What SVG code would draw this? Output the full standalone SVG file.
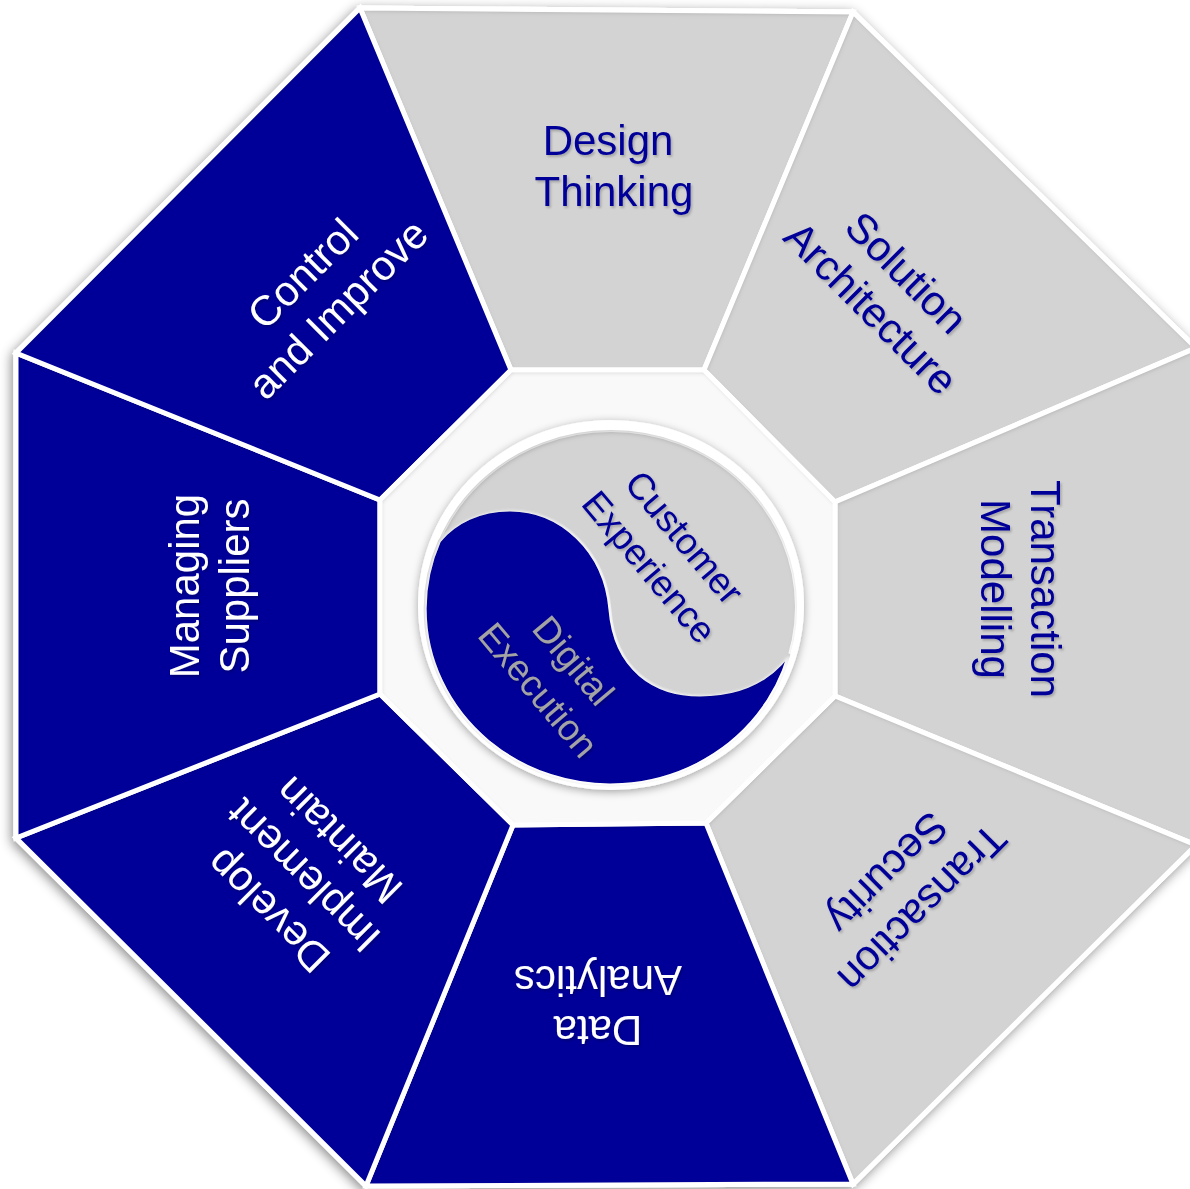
<svg xmlns="http://www.w3.org/2000/svg" width="1190" height="1189" viewBox="0 0 1190 1189">
<defs>
<style>
.blue{fill:#000099}
.grey{fill:#d3d3d3}
.edge{fill:none;stroke:#ffffff;stroke-width:5;stroke-linejoin:miter}
.lbl{font-family:"Liberation Sans",Arial,Helvetica,sans-serif;font-size:42px;text-anchor:middle}
.sm{font-size:37px}
.dk{fill:#000099}
.wt{fill:#ffffff}
.gy{fill:#a3a3a3}
</style>
<filter id="shadow" x="-10%" y="-10%" width="120%" height="120%">
<feDropShadow dx="-2" dy="3" stdDeviation="6" flood-color="#000" flood-opacity="0.45"/>
</filter>
<filter id="ringshadow" x="-10%" y="-10%" width="120%" height="120%">
<feDropShadow dx="0" dy="2" stdDeviation="4" flood-color="#000" flood-opacity="0.35"/>
</filter>
<filter id="inset" x="-5%" y="-5%" width="110%" height="110%">
<feFlood flood-color="#000" flood-opacity="0.45" result="f"/>
<feComposite in="f" in2="SourceAlpha" operator="out" result="outside"/>
<feGaussianBlur in="outside" stdDeviation="2.5" result="b"/>
<feOffset in="b" dx="1" dy="2" result="o"/>
<feComposite in="o" in2="SourceAlpha" operator="in" result="inner"/>
<feMerge><feMergeNode in="SourceGraphic"/><feMergeNode in="inner"/></feMerge>
</filter>
<filter id="ts" x="-20%" y="-20%" width="140%" height="140%">
<feDropShadow dx="1.5" dy="2" stdDeviation="1.3" flood-color="#000" flood-opacity="0.22"/>
</filter>
</defs>
<rect x="0" y="0" width="1190" height="1189" fill="#ffffff"/>

<g id="octagon-background" filter="url(#shadow)">
<polygon points="360,8 853,12 1196,348 1196,845 853,1184 366,1186 16,838 16,353" fill="#ffffff" stroke="#ffffff" stroke-width="5"/>
</g>

<g id="design-thinking">
<polygon class="grey" filter="url(#inset)" points="360,8 853,12 704,370 511,370"/>
<polygon class="edge" points="360,8 853,12 704,370 511,370"/>
<g filter="url(#ts)"><text class="lbl dk"><tspan x="608" y="155">Design</tspan><tspan x="614" y="206">Thinking</tspan></text></g>
</g>

<g id="solution-architecture">
<polygon class="grey" filter="url(#inset)" points="853,12 1196,348 835,502 704,370"/>
<polygon class="edge" points="853,12 1196,348 835,502 704,370"/>
<g filter="url(#ts)"><g transform="translate(889,290) rotate(45)"><text class="lbl dk"><tspan x="0" y="-10">Solution</tspan><tspan x="0" y="40">Architecture</tspan></text></g></g>
</g>

<g id="transaction-modelling">
<polygon class="grey" filter="url(#inset)" points="1196,348 1196,845 835,696 835,502"/>
<polygon class="edge" points="1196,348 1196,845 835,696 835,502"/>
<g filter="url(#ts)"><g transform="translate(1021,589) rotate(90)"><text class="lbl dk"><tspan x="0" y="-10">Transaction</tspan><tspan x="0" y="40">Modelling</tspan></text></g></g>
</g>

<g id="transaction-security">
<polygon class="grey" filter="url(#inset)" points="1196,845 853,1184 706,823 835,696"/>
<polygon class="edge" points="1196,845 853,1184 706,823 835,696"/>
<g filter="url(#ts)"><g transform="translate(905,891) rotate(135)"><text class="lbl dk"><tspan x="0" y="-10">Transaction</tspan><tspan x="0" y="40">Security</tspan></text></g></g>
</g>

<g id="data-analytics">
<polygon class="blue" filter="url(#inset)" points="853,1184 366,1186 513,825 706,823"/>
<polygon class="edge" points="853,1184 366,1186 513,825 706,823"/>
<g filter="url(#ts)"><g transform="translate(598,1006) rotate(180)"><text class="lbl wt"><tspan x="0" y="-10">Data</tspan><tspan x="0" y="40">Analytics</tspan></text></g></g>
</g>

<g id="develop-implement-maintain">
<polygon class="blue" filter="url(#inset)" points="366,1186 16,838 380,694 513,825"/>
<polygon class="edge" points="366,1186 16,838 380,694 513,825"/>
<g filter="url(#ts)"><g transform="translate(303,876) rotate(225)"><text class="lbl wt"><tspan x="0" y="-35">Develop</tspan><tspan x="0" y="15">Implement</tspan><tspan x="0" y="65">Maintain</tspan></text></g></g>
</g>

<g id="managing-suppliers">
<polygon class="blue" filter="url(#inset)" points="16,838 16,353 380,500 380,694"/>
<polygon class="edge" points="16,838 16,353 380,500 380,694"/>
<g filter="url(#ts)"><g transform="translate(209,586) rotate(270)"><text class="lbl wt"><tspan x="0" y="-10">Managing</tspan><tspan x="0" y="40">Suppliers</tspan></text></g></g>
</g>

<g id="control-and-improve">
<polygon class="blue" filter="url(#inset)" points="16,353 360,8 511,370 380,500"/>
<polygon class="edge" points="16,353 360,8 511,370 380,500"/>
<g filter="url(#ts)"><g transform="translate(320,291) rotate(315)"><text class="lbl wt"><tspan x="0" y="-10">Control</tspan><tspan x="0" y="40">and Improve</tspan></text></g></g>
</g>

<g id="inner-octagon">
<polygon points="511,370 704,370 835,502 835,696 706,823 513,825 380,694 380,500" fill="#f9f9f9" filter="url(#inset)"/>
<polygon class="edge" points="511,370 704,370 835,502 835,696 706,823 513,825 380,694 380,500"/>
</g>

<g id="ring">
<ellipse cx="611" cy="605" rx="193" ry="185" fill="#ffffff" filter="url(#ringshadow)"/>
</g>

<g id="customer-experience">
<ellipse cx="611" cy="607" rx="185" ry="176" fill="#d3d3d3" stroke="#ffffff" stroke-width="2" filter="url(#inset)"/>
<g filter="url(#ts)"><g transform="translate(667,552) rotate(50)"><text class="lbl sm dk"><tspan x="0" y="-10">Customer</tspan><tspan x="0" y="36">Experience</tspan></text></g></g>
</g>

<g id="digital-execution">
<path class="blue" filter="url(#inset)" stroke="#ffffff" stroke-width="3" d="M439.5,541 C455,522 480,510 510,510 C560,510 605,550 610,610 C615,670 655,695 700,695 C740,695 770,680 789,654 A185,176 0 1 1 439.5,541 Z"/>
<g filter="url(#ts)"><g transform="translate(556,675) rotate(50)"><text class="lbl sm gy"><tspan x="0" y="-10">Digital</tspan><tspan x="0" y="36">Execution</tspan></text></g></g>
</g>
</svg>
